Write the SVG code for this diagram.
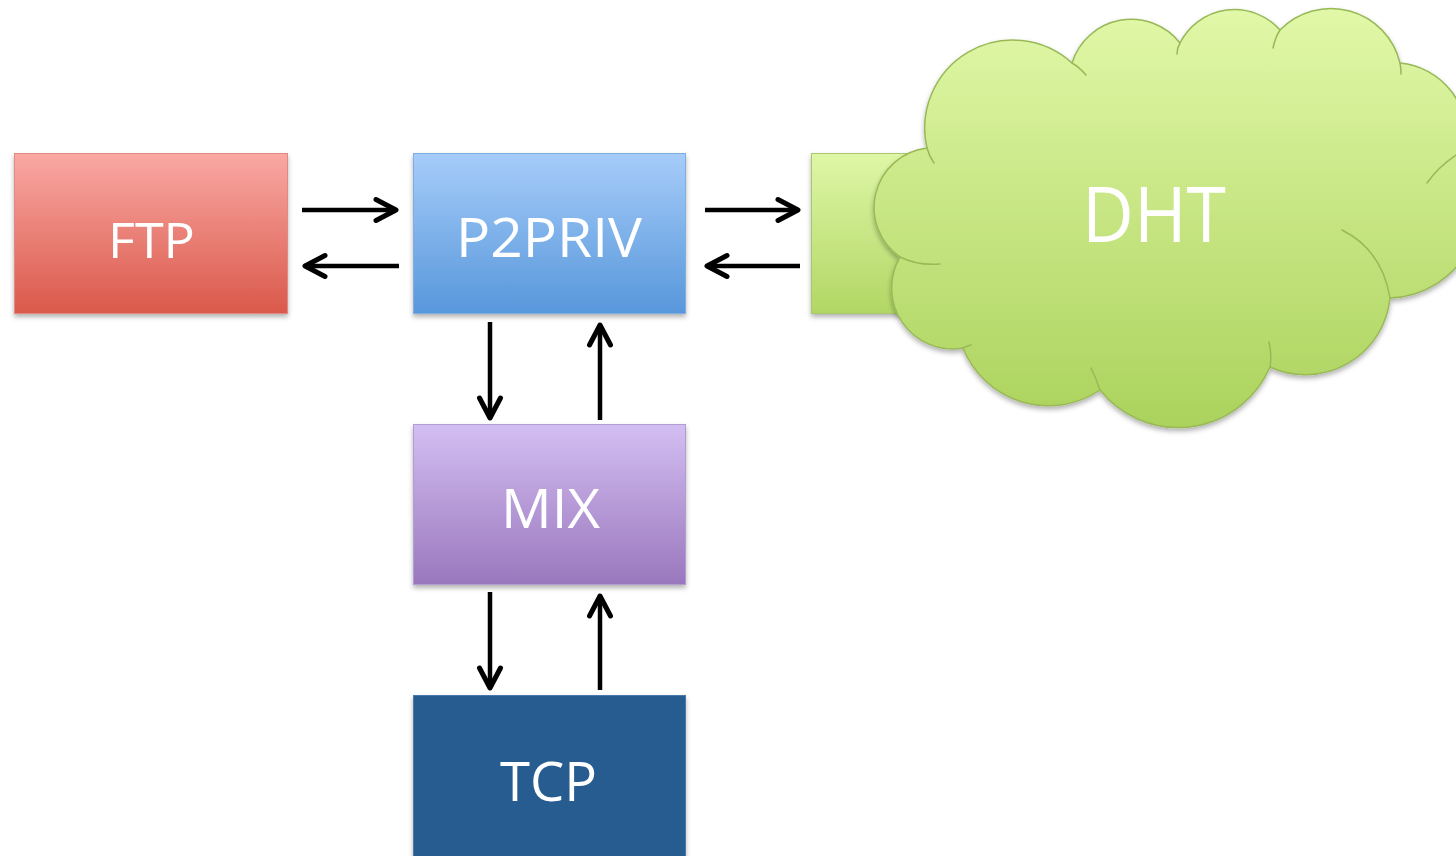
<svg xmlns="http://www.w3.org/2000/svg" width="1456" height="856" viewBox="0 0 1456 856">
  <defs>
    <linearGradient id="gRed" x1="0" y1="0" x2="0" y2="1">
      <stop offset="0" stop-color="#F9A8A3"/>
      <stop offset="1" stop-color="#DA594B"/>
    </linearGradient>
    <linearGradient id="gBlue" x1="0" y1="0" x2="0" y2="1">
      <stop offset="0" stop-color="#A6CCF9"/>
      <stop offset="1" stop-color="#5797DB"/>
    </linearGradient>
    <linearGradient id="gPurple" x1="0" y1="0" x2="0" y2="1">
      <stop offset="0" stop-color="#D3BEF2"/>
      <stop offset="1" stop-color="#9A77BD"/>
    </linearGradient>
    <linearGradient id="gGreenRect" x1="0" y1="0" x2="0" y2="1">
      <stop offset="0" stop-color="#DEF7A6"/>
      <stop offset="1" stop-color="#B2D665"/>
    </linearGradient>
    <linearGradient id="gCloud" gradientUnits="userSpaceOnUse" x1="0" y1="10" x2="0" y2="430">
      <stop offset="0" stop-color="#E1F8A8"/>
      <stop offset="1" stop-color="#ABD25C"/>
    </linearGradient>
    <filter id="shadow" x="-10%" y="-10%" width="120%" height="130%">
      <feDropShadow dx="0" dy="3" stdDeviation="2.5" flood-color="#000" flood-opacity="0.3"/>
    </filter>
    <marker id="head" markerUnits="userSpaceOnUse" viewBox="-26 -14 30 28" markerWidth="30" markerHeight="28" refX="0" refY="0" orient="auto">
      <path d="M-20,-10.5 L0,0 L-20,10.5" fill="none" stroke="#000" stroke-width="5" stroke-linecap="round" stroke-linejoin="round"/>
    </marker>
    <style>
      .lbl { font-family: "Open Sans", "Liberation Sans", sans-serif; fill: #FFFFFF; text-anchor: middle; }
      .conn { stroke: #000; stroke-width: 4.5; fill: none; marker-end: url(#head); }
      .inner { fill: none; stroke: #98B957; stroke-width: 1.5; stroke-linecap: round; }
    </style>
  </defs>
  <rect width="1456" height="856" fill="#FFFFFF"/>

  <g id="ftp">
    <rect x="14.5" y="153.5" width="273" height="160" fill="url(#gRed)" stroke="#E08A83" stroke-width="1" filter="url(#shadow)"/>
    <text class="lbl" x="151.5" y="258" font-size="50" textLength="87" lengthAdjust="spacingAndGlyphs">FTP</text>
  </g>

  <g id="p2priv">
    <rect x="413.5" y="153.5" width="272" height="160" fill="url(#gBlue)" stroke="#7FAEE2" stroke-width="1" filter="url(#shadow)"/>
    <text class="lbl" x="549" y="257" font-size="54" textLength="186" lengthAdjust="spacingAndGlyphs">P2PRIV</text>
  </g>

  <g id="mix">
    <rect x="413.5" y="424.5" width="272" height="160" fill="url(#gPurple)" stroke="#B29CD2" stroke-width="1" filter="url(#shadow)"/>
    <text class="lbl" x="550.5" y="528" font-size="54" textLength="99" lengthAdjust="spacingAndGlyphs">MIX</text>
  </g>

  <g id="tcp">
    <rect x="413.5" y="695.5" width="272" height="165" fill="#285C8F" stroke="#4A7AAB" stroke-width="1" filter="url(#shadow)"/>
    <text class="lbl" x="548.5" y="801" font-size="54" textLength="97" lengthAdjust="spacingAndGlyphs">TCP</text>
  </g>

  <g id="dht">
    <rect x="811.5" y="153.5" width="160" height="160" fill="url(#gGreenRect)" stroke="#A8C86E" stroke-width="1" filter="url(#shadow)"/>
    <path d="M927,148 A88,88 0 0 1 1072,63 A62,62 0 0 1 1180,43 A61,61 0 0 1 1280,30 A71,71 0 0 1 1400,63 A73,73 0 0 1 1465,150 A95,95 0 0 1 1390,298 A85,85 0 0 1 1270,367 A100,100 0 0 1 1100,390 A92,92 0 0 1 963,348 A61,61 0 0 1 900,257 A60,60 0 0 1 927,148 Z" fill="url(#gCloud)" stroke="#98B957" stroke-width="1.5" filter="url(#shadow)"/>
    <path class="inner" d="M927,148 Q929,156 934,163"/>
    <path class="inner" d="M900,257 Q918,266 940,264"/>
    <path class="inner" d="M1072,63 Q1079,67 1086,75"/>
    <path class="inner" d="M1180,43 Q1177,48 1177,54"/>
    <path class="inner" d="M1280,30 Q1275,38 1273,48"/>
    <path class="inner" d="M1400,63 Q1401,68 1401,74"/>
    <path class="inner" d="M1427,183 Q1438,167 1456,155"/>
    <path class="inner" d="M1390,298 Q1382,250 1342,230"/>
    <path class="inner" d="M1270,367 Q1272,354 1269,342"/>
    <path class="inner" d="M1100,390 Q1096,378 1091,368"/>
    <path class="inner" d="M963,348 Q967,346 971,345"/>
    <text class="lbl" x="1154" y="242" font-size="76" textLength="144" lengthAdjust="spacingAndGlyphs">DHT</text>
  </g>

  <g id="connectors">
    <line class="conn" x1="302" y1="210" x2="396" y2="210"/>
    <line class="conn" x1="399" y1="266" x2="305" y2="266"/>
    <line class="conn" x1="705" y1="210" x2="798" y2="210"/>
    <line class="conn" x1="800" y1="266" x2="707" y2="266"/>
    <line class="conn" x1="490" y1="322" x2="490" y2="418"/>
    <line class="conn" x1="600" y1="420" x2="600" y2="325"/>
    <line class="conn" x1="490" y1="592" x2="490" y2="688"/>
    <line class="conn" x1="600" y1="690" x2="600" y2="596"/>
  </g>
</svg>
